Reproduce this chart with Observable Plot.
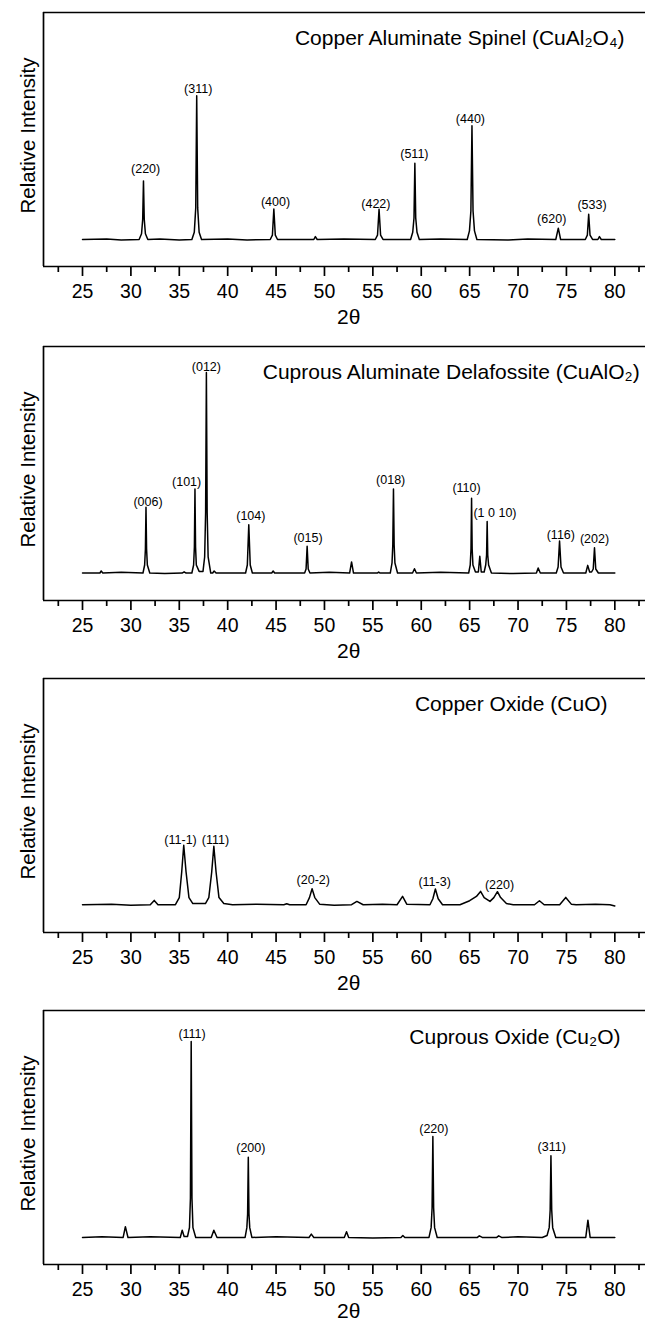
<!DOCTYPE html>
<html><head><meta charset="utf-8">
<script src="https://cdn.jsdelivr.net/npm/d3@7"></script>
<script src="https://cdn.jsdelivr.net/npm/@observablehq/plot@0.6"></script>
<style>
body{margin:0;background:#fff;}
#wrap{position:relative;width:645px;height:1324px;overflow:hidden;background:#fff;}
.panel{position:absolute;left:0;}
</style></head><body><div id="wrap"></div>
<script>
const FONT = "'Liberation Sans', Arial, Helvetica, sans-serif";

// ---- Data (2θ in degrees, relative intensity with tallest peak = 100) ----
const majorTicks = [25, 30, 35, 40, 45, 50, 55, 60, 65, 70, 75, 80];
const minorTicks = [22.5, 27.5, 32.5, 37.5, 42.5, 47.5, 52.5, 57.5, 62.5, 67.5, 72.5, 77.5, 82.5];

const spinelTitle = "Copper Aluminate Spinel (CuAl₂O₄)";
const spinelProfile = [
  [25,0],[27.5,0.4],[29,-0.3],
  [30.85,0],[31.1,4],[31.22,14],[31.3,40.8],[31.38,14],[31.5,4],[31.75,0],
  [33,0.3],[35,-0.3],
  [36.3,0],[36.55,5],[36.7,22],[36.8,100],[36.9,22],[37.05,5],[37.3,0],
  [40,0.3],[42,-0.3],
  [44.4,0],[44.62,3],[44.77,21.2],[44.92,3],[45.15,0],
  [48.9,0],[49.06,2],[49.25,0],[52,0.3],
  [55.25,0],[55.48,3],[55.64,21.1],[55.8,3],[56.05,0],
  [58.9,0],[59.12,5],[59.25,15],[59.34,53.1],[59.43,15],[59.56,5],[59.8,0],
  [62,0.3],
  [64.75,0],[64.98,6],[65.13,20],[65.24,79.1],[65.35,20],[65.5,6],[65.75,0],
  [69,-0.3],[71,0.3],
  [73.9,0],[74.16,7.9],[74.4,0],
  [76.95,0],[77.16,3],[77.3,17.6],[77.44,3],[77.7,0],
  [78.25,0],[78.41,2],[78.6,0],
  [80,0]
];
const spinelLabels = ["(220)","(311)","(400)","(422)","(511)","(440)","(620)","(533)"];
const spinelLabelX = [31.52, 36.95, 44.94, 55.31, 59.29, 65.08, 73.48, 77.64];
const spinelLabelY = [49.0, 104.7, 26.2, 24.6, 59.4, 83.8, 14.2, 24.1];

const delafTitle = "Cuprous Aluminate Delafossite (CuAlO₂)";
const delafProfile = [
  [25,0],[26.8,0],[26.93,1],[27.1,0],[29,0.4],
  [31.25,0],[31.42,4],[31.5,12],[31.56,32.8],[31.62,12],[31.7,4],[31.95,0],
  [33.5,-0.3],
  [35.3,0],[35.5,0.6],[35.7,0],
  [36.3,0],[36.48,4],[36.56,13],[36.62,41.9],[36.68,13],[36.76,4],[37.05,0.8],
  [37.45,0.8],[37.62,8],[37.72,30],[37.80,100],[37.88,30],[37.98,8],[38.25,0],
  [38.45,0],[38.6,1],[38.8,0],
  [41.85,0],[42.03,4],[42.18,24],[42.33,4],[42.55,0],
  [44.55,0],[44.7,1],[44.85,0],
  [47.95,0],[48.1,2],[48.21,13.3],[48.32,2],[48.5,0],
  [50.5,0.4],
  [52.6,0],[52.8,5.5],[53.0,0],
  [55.45,0],[55.6,0.5],[55.75,0],
  [56.8,0],[56.98,5],[57.06,14],[57.13,41.9],[57.2,14],[57.28,5],[57.55,0],
  [59.1,0],[59.3,2.1],[59.5,0],[62,0.4],
  [64.9,0],[65.06,4],[65.14,12],[65.2,37.3],[65.26,12],[65.34,4],[65.6,0.5],
  [65.9,0.5],[66.05,8.3],[66.2,0.5],
  [66.5,0.5],[66.66,4],[66.75,9],[66.81,25.7],[66.87,9],[66.96,4],[67.25,0],
  [69.5,-0.3],
  [71.9,0],[72.08,2.5],[72.3,0],
  [73.95,0],[74.14,3],[74.29,15.9],[74.44,3],[74.7,0],
  [77.0,0],[77.2,3.8],[77.4,0.5],[77.6,0.5],[77.77,2],[77.9,12.6],[78.03,2],[78.3,0],
  [80,0]
];
const delafLabels = ["(006)","(101)","(012)","(104)","(015)","(018)","(110)","(1 0 10)","(116)","(202)"];
const delafLabelX = [31.77, 35.76, 37.80, 42.39, 48.30, 56.84, 64.68, 67.62, 74.42, 77.90];
const delafLabelY = [35.3, 45.3, 102.5, 28.4, 17.6, 46.6, 42.5, 30.0, 19.1, 17.1];

const cuoTitle = "Copper Oxide (CuO)";
const cuoProfile = [
  [25,0],[28,1],[30,-1],[32.0,0],[32.41,7.3],[32.8,0],
  [34.6,0],[35.0,12],[35.25,55],[35.46,100],[35.7,55],[36.0,12],[36.4,2],
  [37.7,2],[38.05,12],[38.35,55],[38.57,98.3],[38.8,55],[39.1,12],[39.6,2],[40.5,0],
  [43,1],[45.8,0],[46.1,1.5],[46.4,0],
  [48.1,0],[48.45,12],[48.72,27],[49.0,12],[49.5,1],[51,-1],
  [52.8,0],[53.35,5.6],[54,0],[56,1],
  [57.5,0],[58.07,14],[58.5,1],
  [60.9,0],[61.2,10],[61.46,26.5],[61.75,10],[62.2,0],
  [64.0,0],[65.0,6.7],[65.7,14],[66.13,22.4],[66.5,12],[67.1,5.6],[67.5,12],[67.87,21.9],[68.2,12],[68.8,2],[69.5,0],
  [71.7,0],[72.21,6.7],[72.7,0],
  [74.3,0],[74.93,12.3],[75.5,1],[76,0],[78,1],
  [79.5,0],[80,-2]
];
const cuoLabels = ["(11-1)","(111)","(20-2)","(11-3)","(220)"];
const cuoLabelX = [35.13, 38.73, 48.84, 61.38, 68.09];
const cuoLabelY = [109.6, 108.4, 42.2, 37.6, 33.7];

const cu2oTitle = "Cuprous Oxide (Cu₂O)";
const cu2oProfile = [
  [25,0],[27,0.4],[29.2,0],[29.43,5.5],[29.7,0],[32,0.3],
  [35.1,0],[35.3,3.7],[35.5,0.5],[35.85,0.5],[36.05,5],[36.15,20],[36.23,100],[36.31,20],[36.41,5],[36.7,0],
  [38.3,0],[38.57,3.7],[38.9,0],
  [41.8,0],[41.98,5],[42.06,12],[42.13,40.9],[42.2,12],[42.28,5],[42.5,0],
  [45,0.3],
  [48.4,0],[48.64,1.7],[48.9,0],
  [52.05,0],[52.28,2.9],[52.5,0],[55,-0.3],
  [57.9,0],[58.1,1],[58.3,0],
  [60.8,0],[61.02,5],[61.12,15],[61.2,51.5],[61.28,15],[61.38,5],[61.65,0],
  [65.8,0],[66,0.8],[66.3,0],[67.8,0],[68,0.8],[68.3,0],[70,0.3],
  [72.5,0],[73.0,1],[73.22,5],[73.32,14],[73.4,41.7],[73.48,14],[73.58,5],[73.9,0],
  [77.0,0],[77.22,8.8],[77.45,0],
  [80,0]
];
const cu2oLabels = ["(111)","(200)","(220)","(311)"];
const cu2oLabelX = [36.32, 42.39, 61.30, 73.48];
const cu2oLabelY = [103.9, 45.7, 55.4, 46.2];

// ---- Panel configuration ----
const xDomain = [20.97, 83.17];
const panels = [
  {top: 0,     h: 333, yDomain: [-18.8, 158.0], profile: spinelProfile, labels: spinelLabels, lx: spinelLabelX, ly: spinelLabelY,
   title: spinelTitle, titleX: 81.0, titleAnchor: "end", titleDy: 25.5, xlabDy: 51},
  {top: 333.7, h: 333, yDomain: [-13.7, 112.9], profile: delafProfile, labels: delafLabels, lx: delafLabelX, ly: delafLabelY,
   title: delafTitle, titleX: 43.62, titleAnchor: "start", titleDy: 26, xlabDy: 51},
  {top: 665.7, h: 333, yDomain: [-46.7, 380.4], profile: cuoProfile, labels: cuoLabels, lx: cuoLabelX, ly: cuoLabelY,
   title: cuoTitle, titleX: 79.24, titleAnchor: "end", titleDy: 25.6, xlabDy: 51},
  {top: 998,   h: 326, yDomain: [-13.8, 115.8], profile: cu2oProfile, labels: cu2oLabels, lx: cu2oLabelX, ly: cu2oLabelY,
   title: cu2oTitle, titleX: 80.59, titleAnchor: "end", titleDy: 26.7, xlabDy: 47}
];

const wrap = document.getElementById("wrap");
for (const p of panels) {
  const labelData = p.labels.map((t, i) => ({t, x: p.lx[i], y: p.ly[i]}));
  const chart = Plot.plot({
    width: 645, height: p.h,
    marginTop: 12, marginBottom: p.h - 12 - 254, marginLeft: 43, marginRight: 0,
    x: {domain: xDomain},
    y: {domain: p.yDomain, axis: null},
    style: {fontFamily: FONT, background: "white", color: "black"},
    marks: [
      Plot.ruleY([p.yDomain[0], p.yDomain[1]], {stroke: "black", strokeWidth: 1.7}),
      Plot.ruleX([xDomain[0]], {stroke: "black", strokeWidth: 1.7}),
      Plot.axisX({ticks: minorTicks, tickSize: 6, tickFormat: () => "", label: null, strokeWidth: 1.7}),
      Plot.axisX({ticks: majorTicks, tickSize: 10, tickPadding: 7.5, fontSize: 19.5, tickFormat: d => String(d), label: null, strokeWidth: 1.7}),
      Plot.line(p.profile, {x: d => d[0], y: d => d[1], stroke: "black", strokeWidth: 1.5}),
      Plot.text(labelData, {x: "x", y: "y", text: "t", fontSize: 12.5, textAnchor: "middle", lineAnchor: "middle"}),
      Plot.text([p.title], {x: () => p.titleX, frameAnchor: "top", dy: p.titleDy, textAnchor: p.titleAnchor, lineAnchor: "middle", fontSize: 21}),
      Plot.text(["2θ"], {x: () => 52.5, frameAnchor: "bottom", dy: p.xlabDy, textAnchor: "middle", lineAnchor: "middle", fontSize: 21}),
      Plot.text(["Relative Intensity"], {frameAnchor: "left", dx: -15, dy: -4, rotate: -90, textAnchor: "middle", lineAnchor: "middle", fontSize: 20.5})
    ]
  });
  chart.classList.add("panel");
  chart.style.top = p.top + "px";
  wrap.appendChild(chart);
}
</script></body></html>
